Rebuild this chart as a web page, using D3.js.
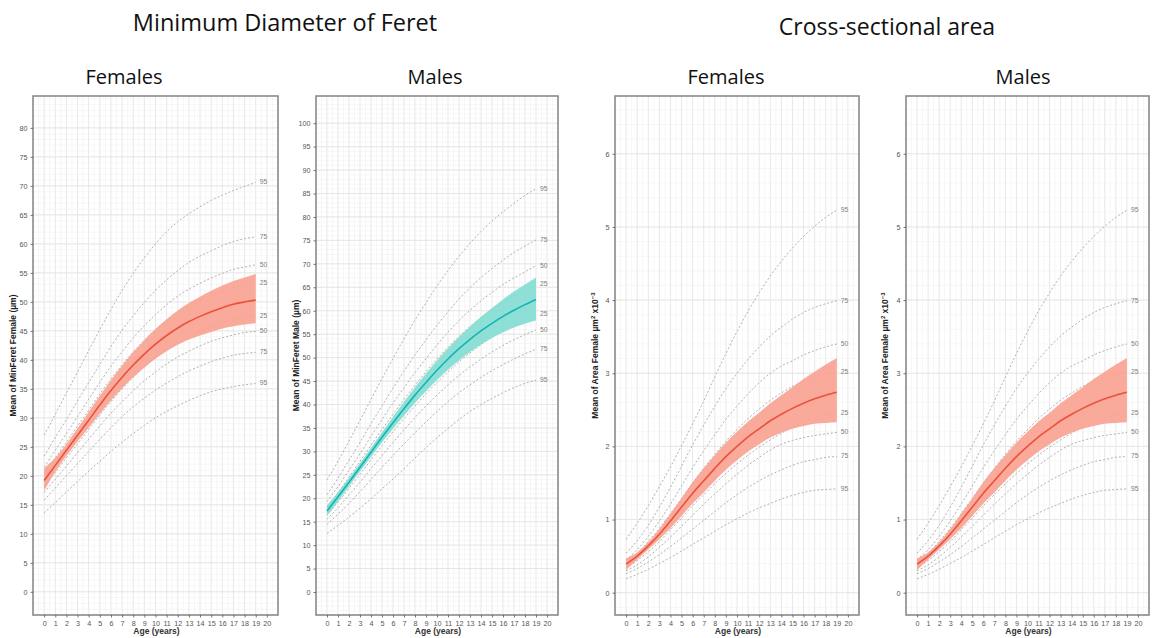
<!DOCTYPE html>
<html>
<head>
<meta charset="utf-8">
<script src="https://cdn.jsdelivr.net/npm/d3@7"></script>
<style>
  html, body { margin: 0; padding: 0; background: #fff; }
  svg { display: block; }
</style>
</head>
<body>
<svg id="chart" width="1158" height="638"></svg>
<script>
// ---------------- DATA ----------------
const ages = [0, 1, 2, 3, 4, 5, 6, 7, 8, 9, 10, 11, 12, 13, 14, 15, 16, 17, 18, 19];
const xTickLabels = [0, 1, 2, 3, 4, 5, 6, 7, 8, 9, 10, 11, 12, 13, 14, 15, 16, 17, 18, 19, 20];
const centileLabels = ["95", "75", "50", "25", "25", "50", "75", "95"];

const feretYTicks = [0, 5, 10, 15, 20, 25, 30, 35, 40, 45, 50, 55, 60, 65, 70, 75, 80];
const feretMaleYTicks = [0, 5, 10, 15, 20, 25, 30, 35, 40, 45, 50, 55, 60, 65, 70, 75, 80, 85, 90, 95, 100];
const areaYTicks = [0, 1, 2, 3, 4, 5, 6];

// MinFeret – Females
const ffMean  = [19.2, 21.8, 24.4, 27.0, 29.6, 32.2, 34.7, 37.0, 39.1, 41.0, 42.7, 44.2, 45.5, 46.6, 47.5, 48.3, 49.0, 49.6, 50.0, 50.3];
const ffUpper = [21.3, 23.1, 25.5, 28.2, 31.0, 33.8, 36.5, 39.0, 41.3, 43.4, 45.3, 47.0, 48.5, 49.8, 50.9, 51.9, 52.8, 53.6, 54.2, 54.8];
const ffLower = [17.4, 20.7, 23.4, 25.9, 28.3, 30.7, 33.0, 35.1, 37.0, 38.7, 40.2, 41.5, 42.6, 43.5, 44.2, 44.8, 45.4, 45.8, 46.1, 46.3];
const ff95u = [27.0, 30.6, 34.3, 37.9, 41.6, 45.2, 48.7, 52.0, 54.9, 57.6, 60.0, 62.1, 63.8, 65.2, 66.4, 67.5, 68.4, 69.2, 69.9, 70.6];
const ff75u = [23.4, 26.6, 29.7, 32.9, 36.1, 39.2, 42.3, 45.1, 47.6, 49.9, 52.0, 53.8, 55.4, 56.8, 57.9, 58.8, 59.7, 60.4, 60.9, 61.2];
const ff50u = [21.5, 24.4, 27.3, 30.2, 33.2, 36.1, 38.9, 41.4, 43.8, 45.9, 47.8, 49.5, 51.0, 52.2, 53.2, 54.1, 54.9, 55.6, 56.0, 56.4];
const ff25u = [20.3, 23.1, 25.8, 28.6, 31.3, 34.1, 36.7, 39.1, 41.4, 43.4, 45.2, 46.8, 48.1, 49.3, 50.3, 51.1, 51.8, 52.5, 52.9, 53.2];
const ff25l = [18.2, 20.6, 23.1, 25.5, 28.0, 30.5, 32.8, 35.0, 37.0, 38.8, 40.4, 41.8, 43.0, 44.1, 44.9, 45.7, 46.4, 46.9, 47.3, 47.6];
const ff50l = [17.1, 19.4, 21.7, 24.0, 26.3, 28.6, 30.8, 32.8, 34.7, 36.4, 37.9, 39.3, 40.5, 41.5, 42.4, 43.2, 43.8, 44.3, 44.7, 44.9];
const ff75l = [15.8, 17.9, 20.0, 22.1, 24.2, 26.3, 28.3, 30.2, 31.9, 33.4, 34.8, 36.0, 37.1, 38.1, 38.9, 39.7, 40.3, 40.8, 41.1, 41.3];
const ff95l = [13.6, 15.4, 17.2, 19.0, 20.8, 22.5, 24.2, 25.8, 27.3, 28.7, 30.0, 31.1, 32.1, 33.0, 33.8, 34.5, 35.0, 35.4, 35.7, 35.9];

// MinFeret – Males
const fmMean  = [17.3, 20.3, 23.4, 26.6, 29.8, 33.0, 36.1, 39.1, 42.0, 44.7, 47.3, 49.7, 51.9, 53.9, 55.7, 57.3, 58.8, 60.1, 61.3, 62.4];
const fmUpper = [18.5, 21.3, 24.3, 27.5, 30.8, 34.1, 37.4, 40.6, 43.7, 46.6, 49.4, 52.0, 54.4, 56.6, 58.7, 60.6, 62.4, 64.1, 65.6, 67.1];
const fmLower = [16.2, 19.3, 22.5, 25.7, 28.8, 31.9, 34.8, 37.6, 40.3, 42.8, 45.2, 47.4, 49.4, 51.2, 52.8, 54.2, 55.4, 56.4, 57.2, 57.9];
const fm95u = [23.9, 27.9, 32.2, 36.6, 41.1, 45.5, 49.8, 54.0, 58.0, 61.7, 65.3, 68.6, 71.6, 74.4, 76.9, 79.1, 81.1, 82.9, 84.6, 86.0];
const fm75u = [20.8, 24.3, 28.1, 31.9, 35.9, 39.7, 43.5, 47.1, 50.6, 53.8, 56.9, 59.8, 62.5, 64.9, 67.1, 69.0, 70.8, 72.4, 73.8, 75.1];
const fm50u = [19.3, 22.5, 26.0, 29.5, 33.2, 36.8, 40.3, 43.6, 46.8, 49.8, 52.7, 55.4, 57.9, 60.1, 62.1, 63.9, 65.6, 67.0, 68.3, 69.6];
const fm25u = [18.2, 21.2, 24.5, 27.9, 31.3, 34.7, 37.9, 41.1, 44.1, 47.0, 49.7, 52.2, 54.5, 56.6, 58.5, 60.2, 61.8, 63.2, 64.4, 65.6];
const fm25l = [16.4, 19.2, 22.1, 25.1, 28.2, 31.2, 34.2, 37.0, 39.7, 42.3, 44.7, 47.0, 49.1, 51.0, 52.8, 54.4, 55.8, 57.0, 58.2, 59.2];
const fm50l = [15.5, 18.0, 20.7, 23.4, 26.3, 29.1, 31.9, 34.6, 37.2, 39.7, 42.0, 44.2, 46.2, 48.0, 49.7, 51.2, 52.6, 53.8, 54.9, 55.9];
const fm75l = [14.4, 16.6, 18.9, 21.4, 24.0, 26.6, 29.1, 31.6, 34.0, 36.3, 38.5, 40.6, 42.5, 44.2, 45.8, 47.2, 48.5, 49.7, 50.8, 51.8];
const fm95l = [12.5, 14.2, 16.0, 17.9, 19.9, 22.0, 24.1, 26.3, 28.6, 30.8, 32.9, 34.9, 36.8, 38.5, 40.0, 41.3, 42.5, 43.6, 44.5, 45.2];

// Cross-sectional area (x10^-3) – Females
const afMean  = [0.39, 0.50, 0.64, 0.80, 0.98, 1.17, 1.36, 1.53, 1.70, 1.86, 2.00, 2.13, 2.24, 2.35, 2.44, 2.52, 2.59, 2.65, 2.70, 2.74];
const afUpper = [0.47, 0.55, 0.69, 0.87, 1.08, 1.29, 1.51, 1.70, 1.88, 2.05, 2.20, 2.34, 2.46, 2.59, 2.70, 2.81, 2.92, 3.02, 3.12, 3.21];
const afLower = [0.31, 0.45, 0.59, 0.73, 0.88, 1.05, 1.22, 1.37, 1.53, 1.68, 1.81, 1.93, 2.03, 2.12, 2.19, 2.24, 2.28, 2.31, 2.32, 2.33];
const af95u = [0.73, 0.95, 1.19, 1.45, 1.72, 2.01, 2.31, 2.62, 2.95, 3.27, 3.57, 3.85, 4.10, 4.33, 4.53, 4.71, 4.87, 5.01, 5.13, 5.23];
const af75u = [0.54, 0.71, 0.92, 1.17, 1.44, 1.73, 2.02, 2.29, 2.55, 2.79, 3.00, 3.19, 3.36, 3.51, 3.63, 3.74, 3.83, 3.90, 3.95, 3.99];
const af50u = [0.45, 0.59, 0.77, 0.98, 1.21, 1.46, 1.71, 1.94, 2.16, 2.37, 2.55, 2.72, 2.87, 3.00, 3.10, 3.17, 3.25, 3.31, 3.36, 3.40];
const af25u = [0.41, 0.54, 0.70, 0.88, 1.08, 1.29, 1.50, 1.70, 1.89, 2.07, 2.23, 2.38, 2.51, 2.63, 2.73, 2.82, 2.89, 2.95, 2.99, 3.02];
const af25l = [0.34, 0.44, 0.56, 0.70, 0.86, 1.02, 1.19, 1.34, 1.49, 1.63, 1.76, 1.88, 1.99, 2.09, 2.18, 2.26, 2.33, 2.39, 2.43, 2.46];
const af50l = [0.30, 0.38, 0.49, 0.62, 0.76, 0.91, 1.06, 1.21, 1.35, 1.49, 1.62, 1.74, 1.85, 1.95, 2.03, 2.08, 2.12, 2.15, 2.17, 2.19];
const af75l = [0.26, 0.33, 0.42, 0.52, 0.63, 0.75, 0.87, 0.99, 1.11, 1.23, 1.34, 1.44, 1.53, 1.61, 1.68, 1.74, 1.79, 1.82, 1.85, 1.86];
const af95l = [0.19, 0.25, 0.32, 0.40, 0.48, 0.57, 0.66, 0.75, 0.84, 0.93, 1.01, 1.09, 1.16, 1.22, 1.28, 1.33, 1.37, 1.40, 1.41, 1.42];

// Cross-sectional area (x10^-3) – Males (curves as shown in source panel)
const amMean  = [0.39, 0.50, 0.64, 0.80, 0.98, 1.17, 1.36, 1.53, 1.70, 1.86, 2.00, 2.13, 2.24, 2.35, 2.44, 2.52, 2.59, 2.65, 2.70, 2.74];
const amUpper = [0.47, 0.55, 0.69, 0.87, 1.08, 1.29, 1.51, 1.70, 1.88, 2.05, 2.20, 2.34, 2.46, 2.59, 2.70, 2.81, 2.92, 3.02, 3.12, 3.21];
const amLower = [0.31, 0.45, 0.59, 0.73, 0.88, 1.05, 1.22, 1.37, 1.53, 1.68, 1.81, 1.93, 2.03, 2.12, 2.19, 2.24, 2.28, 2.31, 2.32, 2.33];
const am95u = [0.73, 0.95, 1.19, 1.45, 1.72, 2.01, 2.31, 2.62, 2.95, 3.27, 3.57, 3.85, 4.10, 4.33, 4.53, 4.71, 4.87, 5.01, 5.13, 5.23];
const am75u = [0.54, 0.71, 0.92, 1.17, 1.44, 1.73, 2.02, 2.29, 2.55, 2.79, 3.00, 3.19, 3.36, 3.51, 3.63, 3.74, 3.83, 3.90, 3.95, 3.99];
const am50u = [0.45, 0.59, 0.77, 0.98, 1.21, 1.46, 1.71, 1.94, 2.16, 2.37, 2.55, 2.72, 2.87, 3.00, 3.10, 3.17, 3.25, 3.31, 3.36, 3.40];
const am25u = [0.41, 0.54, 0.70, 0.88, 1.08, 1.29, 1.50, 1.70, 1.89, 2.07, 2.23, 2.38, 2.51, 2.63, 2.73, 2.82, 2.89, 2.95, 2.99, 3.02];
const am25l = [0.34, 0.44, 0.56, 0.70, 0.86, 1.02, 1.19, 1.34, 1.49, 1.63, 1.76, 1.88, 1.99, 2.09, 2.18, 2.26, 2.33, 2.39, 2.43, 2.46];
const am50l = [0.30, 0.38, 0.49, 0.62, 0.76, 0.91, 1.06, 1.21, 1.35, 1.49, 1.62, 1.74, 1.85, 1.95, 2.03, 2.08, 2.12, 2.15, 2.17, 2.19];
const am75l = [0.26, 0.33, 0.42, 0.52, 0.63, 0.75, 0.87, 0.99, 1.11, 1.23, 1.34, 1.44, 1.53, 1.61, 1.68, 1.74, 1.79, 1.82, 1.85, 1.86];
const am95l = [0.19, 0.25, 0.32, 0.40, 0.48, 0.57, 0.66, 0.75, 0.84, 0.93, 1.01, 1.09, 1.16, 1.22, 1.28, 1.33, 1.37, 1.40, 1.41, 1.42];

// ---------------- LAYOUT / STYLE ----------------
const RED = { band: "#f9a393", line: "#e9523c" };
const TEAL = { band: "#84ddd4", line: "#14b4b4" };

const panels = [
  { left: 33, right: 278, top: 96, bottom: 615, yDomain: [-4.0, 85.5], yTicks: feretYTicks, yMinor: 1,
    title: "Females", titleX: 124, ylabel: "Mean of MinFeret Female (µm)", ylabelX: 16,
    mean: ffMean, upper: ffUpper, lower: ffLower,
    centiles: [ff95u, ff75u, ff50u, ff25u, ff25l, ff50l, ff75l, ff95l], col: RED },
  { left: 316, right: 558, top: 96, bottom: 615, yDomain: [-4.9, 105.8], yTicks: feretMaleYTicks, yMinor: 1,
    title: "Males", titleX: 435, ylabel: "Mean of MinFeret Male (µm)", ylabelX: 299,
    mean: fmMean, upper: fmUpper, lower: fmLower,
    centiles: [fm95u, fm75u, fm50u, fm25u, fm25l, fm50l, fm75l, fm95l], col: TEAL },
  { left: 615, right: 859, top: 96, bottom: 615, yDomain: [-0.305, 6.79], yTicks: areaYTicks, yMinor: 0.2,
    title: "Females", titleX: 726, ylabel: "area", ylabelX: 598,
    mean: afMean, upper: afUpper, lower: afLower,
    centiles: [af95u, af75u, af50u, af25u, af25l, af50l, af75l, af95l], col: RED },
  { left: 906, right: 1149, top: 96, bottom: 615, yDomain: [-0.305, 6.79], yTicks: areaYTicks, yMinor: 0.2,
    title: "Males", titleX: 1023, ylabel: "area", ylabelX: 888,
    mean: amMean, upper: amUpper, lower: amLower,
    centiles: [am95u, am75u, am50u, am25u, am25l, am50l, am75l, am95l], col: RED }
];

const svg = d3.select("#chart");
svg.append("rect").attr("width", 1158).attr("height", 638).attr("fill", "#fff");

// Main titles
svg.append("text").attr("x", 285).attr("y", 31).attr("text-anchor", "middle")
  .attr("font-family", "'Open Sans', 'Noto Sans', sans-serif").attr("font-size", 23.5).attr("fill", "#111")
  .text("Minimum Diameter of Feret");
svg.append("text").attr("x", 887).attr("y", 35).attr("text-anchor", "middle")
  .attr("font-family", "'Open Sans', 'Noto Sans', sans-serif").attr("font-size", 23).attr("fill", "#111")
  .text("Cross-sectional area");

panels.forEach((p, i) => {
  const x = d3.scaleLinear().domain([-1, 21]).range([p.left, p.right]);
  const y = d3.scaleLinear().domain(p.yDomain).range([p.bottom, p.top]);
  const g = svg.append("g");
  const clipId = "clip" + i;
  svg.append("clipPath").attr("id", clipId).append("rect")
    .attr("x", p.left).attr("y", p.top).attr("width", p.right - p.left).attr("height", p.bottom - p.top);

  // panel title
  svg.append("text").attr("x", p.titleX).attr("y", 84).attr("text-anchor", "middle")
    .attr("font-family", "'Open Sans', 'Noto Sans', sans-serif").attr("font-size", 20).attr("fill", "#111")
    .text(p.title);

  const grid = g.append("g").attr("clip-path", `url(#${clipId})`);
  d3.range(-1, 21.01, 0.5).forEach(v => {
    const isMajor = Math.abs(v - Math.round(v)) < 1e-6 && v >= 0 && v <= 20;
    grid.append("line").attr("x1", x(v)).attr("x2", x(v)).attr("y1", p.top).attr("y2", p.bottom)
      .attr("stroke", isMajor ? "#e4e4e4" : "#f1f1f1").attr("stroke-width", isMajor ? 0.9 : 0.6);
  });
  const ys = d3.range(Math.ceil(p.yDomain[0] / p.yMinor) * p.yMinor, p.yDomain[1], p.yMinor);
  ys.forEach(v => {
    grid.append("line").attr("x1", p.left).attr("x2", p.right).attr("y1", y(v)).attr("y2", y(v))
      .attr("stroke", "#f1f1f1").attr("stroke-width", 0.6);
  });
  p.yTicks.forEach(v => {
    grid.append("line").attr("x1", p.left).attr("x2", p.right).attr("y1", y(v)).attr("y2", y(v))
      .attr("stroke", "#e4e4e4").attr("stroke-width", 0.9);
  });

  const data = ages.map((a, k) => ({ a, m: p.mean[k], u: p.upper[k], l: p.lower[k] }));
  const plot = g.append("g").attr("clip-path", `url(#${clipId})`);

  const cline = d3.line().x((d, k) => x(ages[k])).y(d => y(d)).curve(d3.curveMonotoneX);
  p.centiles.forEach(arr => {
    plot.append("path").attr("d", cline(arr)).attr("fill", "none")
      .attr("stroke", "#a8a8a8").attr("stroke-width", 0.9).attr("stroke-dasharray", "2,2");
  });

  const area = d3.area().x(d => x(d.a)).y0(d => y(d.l)).y1(d => y(d.u)).curve(d3.curveMonotoneX);
  plot.append("path").attr("d", area(data)).attr("fill", p.col.band).attr("fill-opacity", 0.92);
  const mline = d3.line().x(d => x(d.a)).y(d => y(d.m)).curve(d3.curveMonotoneX);
  plot.append("path").attr("d", mline(data)).attr("fill", "none")
    .attr("stroke", p.col.line).attr("stroke-width", 1.6);

  p.centiles.forEach((arr, k) => {
    g.append("text").attr("x", x(19) + 4).attr("y", y(arr[arr.length - 1]))
      .attr("dominant-baseline", "middle").attr("font-family", "'Liberation Sans', Arial, sans-serif")
      .attr("font-size", 6.8).attr("fill", "#808080").text(centileLabels[k]);
  });

  g.append("rect").attr("x", p.left).attr("y", p.top).attr("width", p.right - p.left).attr("height", p.bottom - p.top)
    .attr("fill", "none").attr("stroke", "#8a8a8a").attr("stroke-width", 1.6);

  const xAxis = d3.axisBottom(x).tickValues(xTickLabels).tickSize(2.5).tickPadding(3).tickFormat(d3.format("d"));
  const xa = g.append("g").attr("transform", `translate(0,${p.bottom})`).call(xAxis);
  const yAxis = d3.axisLeft(y).tickValues(p.yTicks).tickSize(2.5).tickPadding(3).tickFormat(d3.format("d"));
  const ya = g.append("g").attr("transform", `translate(${p.left},0)`).call(yAxis);
  [xa, ya].forEach(ax => {
    ax.select(".domain").remove();
    ax.selectAll(".tick line").attr("stroke", "#555").attr("stroke-width", 0.8);
    ax.selectAll(".tick text").attr("fill", "#555").attr("font-size", 7.2)
      .attr("font-family", "'Liberation Sans', Arial, sans-serif");
  });

  g.append("text").attr("x", (p.left + p.right) / 2 + 1).attr("y", 634).attr("text-anchor", "middle")
    .attr("font-family", "'Liberation Sans', Arial, sans-serif").attr("font-size", 8.5).attr("font-weight", "bold")
    .attr("fill", "#333").text("Age (years)");

  const cy = (p.top + p.bottom) / 2;
  const yl = g.append("text").attr("transform", `translate(${p.ylabelX},${cy}) rotate(-90)`)
    .attr("text-anchor", "middle").attr("font-family", "'Liberation Sans', Arial, sans-serif")
    .attr("font-size", 8.5).attr("font-weight", "bold").attr("fill", "#222");
  if (p.ylabel === "area") {
    yl.append("tspan").text("Mean of Area Female µm");
    yl.append("tspan").attr("dy", -3.5).attr("font-size", 6).text("2");
    yl.append("tspan").attr("dy", 3.5).text(" x10");
    yl.append("tspan").attr("dy", -3.5).attr("font-size", 6).text("−3");
  } else {
    yl.text(p.ylabel);
  }
});
</script>
</body>
</html>
